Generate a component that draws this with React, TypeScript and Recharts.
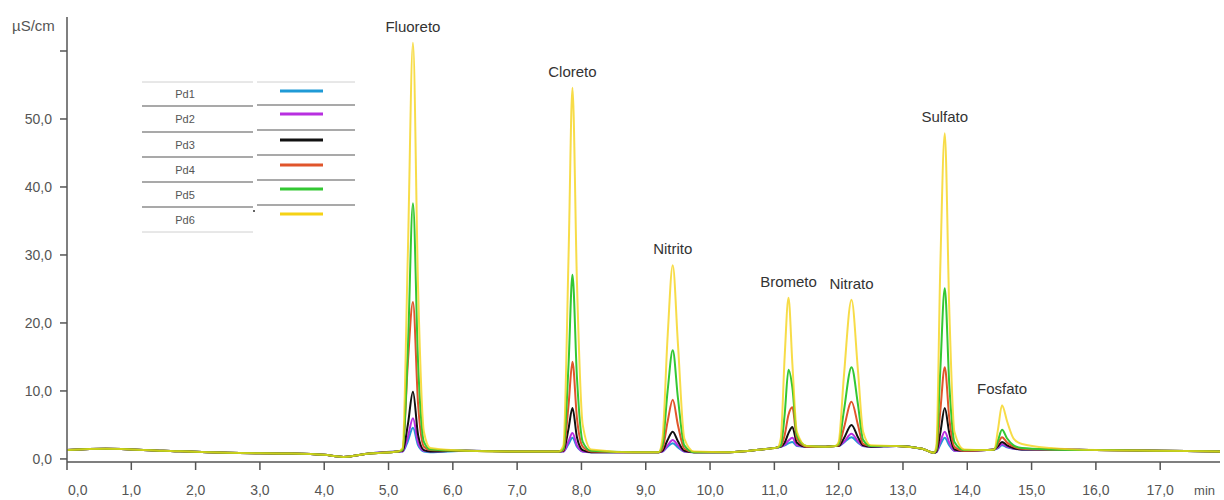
import React from "react";
import {
  LineChart,
  Line,
  XAxis,
  YAxis,
  Legend,
  LabelList,
} from "recharts";

// Retention time (min) of every sampled point
const retentionTimes = [
  0, 0.6, 1.5, 2.5, 3.5, 4.0, 4.3, 4.7, 5.15,
  5.22, 5.3, 5.38, 5.46, 5.55, 5.65,
  6.2, 7.0, 7.65,
  7.72, 7.8, 7.86, 7.93, 8.02, 8.15,
  8.8, 9.2,
  9.26, 9.34, 9.42, 9.5, 9.6, 9.75,
  10.3, 10.8, 11.05,
  11.1, 11.16, 11.22, 11.28, 11.35, 11.5,
  11.8, 11.95,
  12.0, 12.08, 12.2, 12.3, 12.38, 12.5,
  12.9, 13.3, 13.48,
  13.52, 13.58, 13.65, 13.72, 13.8, 13.95,
  14.3, 14.42,
  14.48, 14.54, 14.62, 14.72, 14.85,
  15.3, 16.0, 17.0, 17.93,
];

// Conductivity (µS/cm) for each standard
const pd1 = [
  1.3, 1.5, 1.2, 0.9, 0.8, 0.6, 0.3, 0.8, 1.1,
  1.1, 2.6, 4.6, 2.0, 1.1, 1.0,
  1.2, 1.1, 1.1,
  1.1, 2.2, 3.1, 1.8, 1.1, 1.0,
  1.0, 1.0,
  1.1, 1.8, 2.3, 1.7, 1.1, 1.0,
  1.0, 1.4, 1.7,
  1.8, 2.0, 2.3, 2.5, 1.9, 1.8,
  1.8, 1.9,
  1.9, 2.4, 3.2, 2.4, 1.9, 1.8,
  1.9, 1.5, 0.9,
  1.0, 2.1, 3.1, 2.0, 1.2, 1.2,
  1.3, 1.4,
  1.6, 2.0, 1.7, 1.5, 1.4,
  1.4, 1.3, 1.2, 1.1,
];

const pd2 = [
  1.3, 1.5, 1.2, 0.9, 0.8, 0.6, 0.3, 0.8, 1.1,
  1.1, 3.2, 6.0, 2.4, 1.2, 1.1,
  1.2, 1.1, 1.1,
  1.1, 2.6, 3.8, 2.0, 1.1, 1.0,
  1.0, 1.0,
  1.1, 2.0, 2.8, 2.0, 1.1, 1.0,
  1.0, 1.4, 1.7,
  1.8, 2.1, 2.7, 3.1, 2.0, 1.8,
  1.8, 1.9,
  1.9, 2.5, 3.7, 2.6, 1.9, 1.8,
  1.9, 1.5, 0.9,
  1.0, 2.5, 4.0, 2.4, 1.2, 1.2,
  1.3, 1.4,
  1.7, 2.2, 1.8, 1.5, 1.4,
  1.4, 1.3, 1.2, 1.1,
];

const pd3 = [
  1.3, 1.5, 1.2, 0.9, 0.8, 0.6, 0.3, 0.8, 1.1,
  1.2, 5.0, 9.9, 3.5, 1.3, 1.1,
  1.2, 1.1, 1.1,
  1.2, 4.5, 7.5, 3.2, 1.3, 1.0,
  1.0, 1.0,
  1.2, 2.8, 4.0, 2.6, 1.2, 1.0,
  1.0, 1.4, 1.7,
  1.8, 2.4, 3.8, 4.7, 2.4, 1.8,
  1.8, 1.9,
  1.9, 3.0, 5.0, 3.2, 2.0, 1.8,
  1.9, 1.5, 0.9,
  1.1, 3.8, 7.5, 3.8, 1.4, 1.2,
  1.3, 1.4,
  1.9, 2.5, 2.0, 1.6, 1.4,
  1.4, 1.3, 1.2, 1.1,
];

const pd4 = [
  1.3, 1.5, 1.2, 0.9, 0.8, 0.6, 0.3, 0.8, 1.1,
  1.3, 14, 23.1, 8.0, 1.8, 1.3,
  1.2, 1.1, 1.1,
  1.3, 8.0, 14.3, 6.0, 1.8, 1.1,
  1.0, 1.0,
  1.5, 5.5, 8.7, 5.0, 1.5, 1.0,
  1.0, 1.4, 1.7,
  1.9, 3.5, 6.5, 7.6, 3.0, 1.8,
  1.8, 1.9,
  2.0, 4.5, 8.4, 5.0, 2.2, 1.9,
  1.9, 1.5, 0.9,
  1.3, 7.0, 13.5, 6.0, 1.8, 1.2,
  1.3, 1.4,
  2.3, 3.2, 2.4, 1.8, 1.5,
  1.4, 1.3, 1.2, 1.1,
];

const pd5 = [
  1.3, 1.5, 1.2, 0.9, 0.8, 0.6, 0.3, 0.8, 1.1,
  1.4, 16, 37.6, 14, 2.5, 1.4,
  1.2, 1.1, 1.1,
  1.5, 14, 27.1, 12, 2.5, 1.2,
  1.0, 1.0,
  2.0, 10, 16.0, 9.0, 2.0, 1.0,
  1.0, 1.4, 1.7,
  2.0, 6.5, 13.1, 10.5, 3.5, 1.9,
  1.8, 1.9,
  2.2, 7.0, 13.5, 8.0, 2.8, 1.9,
  1.9, 1.5, 0.9,
  1.5, 13, 25.1, 11, 2.5, 1.3,
  1.3, 1.4,
  2.8, 4.3, 3.0, 2.0, 1.6,
  1.4, 1.3, 1.2, 1.1,
];

const pd6 = [
  1.3, 1.5, 1.2, 0.9, 0.8, 0.6, 0.3, 0.8, 1.1,
  1.6, 30, 61.2, 25, 4.0, 1.6,
  1.2, 1.1, 1.1,
  2.0, 30, 54.6, 26, 5.0, 1.4,
  1.0, 1.0,
  3.0, 18, 28.5, 17, 3.0, 1.1,
  1.0, 1.4, 1.7,
  3.0, 15, 23.7, 14, 4.0, 1.9,
  1.8, 1.9,
  2.5, 12, 23.4, 13, 4.0, 2.0,
  1.9, 1.5, 0.9,
  2.0, 28, 47.9, 22, 4.0, 1.4,
  1.3, 1.4,
  4.5, 7.9, 5.5, 3.0, 2.2,
  1.6, 1.3, 1.2, 1.1,
];

const seriesNames = ["Pd1", "Pd2", "Pd3", "Pd4", "Pd5", "Pd6"];
const seriesColors = ["#1f9ad6", "#b82fe0", "#111111", "#e0552b", "#33c733", "#f5d215"];

const peakNames = ["Fluoreto", "Cloreto", "Nitrito", "Brometo", "Nitrato", "Sulfato", "Fosfato"];
const peakTimes = [5.38, 7.86, 9.42, 11.22, 12.2, 13.65, 14.54];

const xTicks = [0, 1, 2, 3, 4, 5, 6, 7, 8, 9, 10, 11, 12, 13, 14, 15, 16, 17];
const yTicks = [0, 10, 20, 30, 40, 50, 60];

const allSeries = [pd1, pd2, pd3, pd4, pd5, pd6];

const data = retentionTimes.map((t, i) => {
  const row: Record<string, number> = { t };
  seriesNames.forEach((name, s) => {
    row[name] = allSeries[s][i];
  });
  return row;
});

const FONT = "'Liberation Sans', Arial, sans-serif";
const fmt = (v: number) => v.toFixed(1).replace(".", ",");

const XTick = (props: any) => {
  const { x, y, payload } = props;
  const first = payload.value === 0;
  return (
    <text
      x={first ? x + 1 : x}
      y={y}
      dy="0.71em"
      textAnchor={first ? "start" : "middle"}
      fill="#555"
      fontSize={14}
      fontFamily={FONT}
    >
      {fmt(payload.value)}
    </text>
  );
};

const PeakLabel = (props: any) => {
  const { x, y, index } = props;
  const k = peakTimes.indexOf(retentionTimes[index]);
  if (k < 0) return null;
  return (
    <text x={x} y={y - 11} textAnchor="middle" fill="#333" fontSize={15} fontFamily={FONT}>
      {peakNames[k]}
    </text>
  );
};

// table-style legend: name column on the left, colour swatch on the right
const leftRules = [4, 28, 54, 79, 104, 129, 154];
const rightRules = [4, 27, 52, 77, 102, 127];
const swatchY = [13, 36, 62, 87, 111, 136];

const TableLegend = (props: any) => {
  const items = props.payload || [];
  return (
    <svg width={222} height={160} style={{ display: "block" }}>
      {leftRules.map((y, i) => (
        <line
          key={"l" + i}
          x1={4}
          x2={115}
          y1={y}
          y2={y}
          stroke={i === 0 || i === leftRules.length - 1 ? "#d0d0d0" : "#8c8c8c"}
          strokeWidth={i === 0 || i === leftRules.length - 1 ? 1 : 1.4}
        />
      ))}
      {rightRules.map((y, i) => (
        <line
          key={"r" + i}
          x1={119}
          x2={217}
          y1={y}
          y2={y}
          stroke={i === 0 ? "#d0d0d0" : "#8c8c8c"}
          strokeWidth={i === 0 ? 1 : 1.4}
        />
      ))}
      {items.map((item: any, i: number) => (
        <g key={item.value}>
          <text
            x={47}
            y={(leftRules[i] + leftRules[i + 1]) / 2}
            dominantBaseline="central"
            textAnchor="middle"
            fontSize={11}
            fill="#555"
            fontFamily={FONT}
          >
            {item.value}
          </text>
          <line x1={142} x2={185} y1={swatchY[i]} y2={swatchY[i]} stroke={item.color} strokeWidth={3} />
        </g>
      ))}
      <circle cx={116} cy={133} r={1} fill="#333" />
    </svg>
  );
};

export default function App() {
  return (
    <div style={{ position: "absolute", left: 0, top: 0, width: 1224, height: 500, background: "#fff" }}>
      <LineChart
        width={1224}
        height={500}
        data={data}
        margin={{ top: 17, right: 4, bottom: 0, left: 0 }}
        style={{ fontFamily: FONT }}
      >
        <XAxis
          dataKey="t"
          type="number"
          domain={[0, 17.93]}
          ticks={xTicks}
          allowDataOverflow
          height={38}
          tickSize={8}
          tickMargin={15}
          tick={<XTick />}
          axisLine={{ stroke: "#555", strokeWidth: 1.5 }}
          tickLine={{ stroke: "#555", strokeWidth: 1.5 }}
          label={{
            value: "min",
            position: "insideBottomRight",
            offset: 5,
            fill: "#555",
            fontSize: 13,
          }}
        />
        <YAxis
          type="number"
          domain={[-0.45, 65]}
          ticks={yTicks}
          allowDataOverflow
          width={67}
          tickSize={7}
          tickMargin={8}
          tickFormatter={(v: number) => (v === 60 ? "" : fmt(v))}
          tick={{ fill: "#555", fontSize: 14 }}
          axisLine={{ stroke: "#555", strokeWidth: 1.5 }}
          tickLine={{ stroke: "#555", strokeWidth: 1.5 }}
          label={{
            value: "µS/cm",
            position: "insideTopLeft",
            offset: 0,
            dx: 12,
            dy: 3,
            fill: "#555",
            fontSize: 15,
          }}
        />
        <Legend
          layout="vertical"
          align="center"
          verticalAlign="middle"
          content={<TableLegend />}
          wrapperStyle={{ left: 138, top: 78, width: 222, height: 160 }}
        />
        {seriesNames.map((name, s) => (
          <Line
            key={name}
            type="monotone"
            dataKey={name}
            name={name}
            stroke={seriesColors[s]}
            strokeWidth={2}
            strokeOpacity={name === "Pd6" ? 0.78 : 1}
            dot={false}
            activeDot={false}
            isAnimationActive={false}
          >
            {name === "Pd6" && <LabelList dataKey={name} content={<PeakLabel />} />}
          </Line>
        ))}
      </LineChart>
    </div>
  );
}
